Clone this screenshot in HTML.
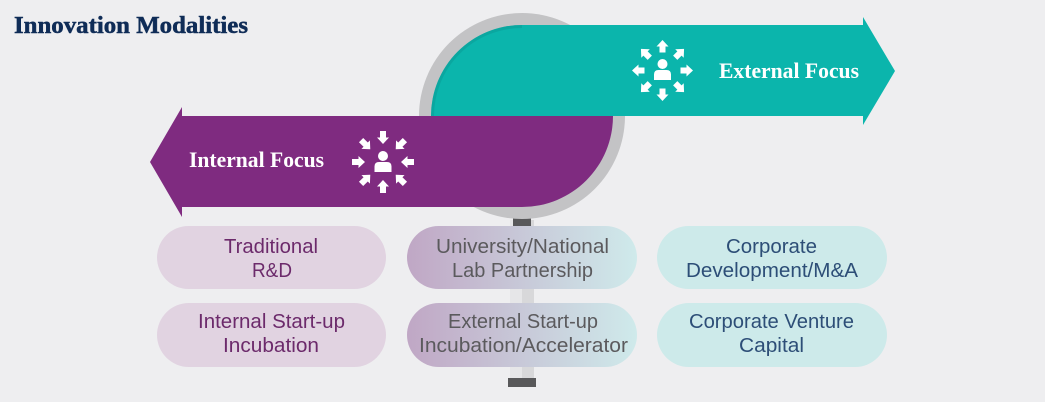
<!DOCTYPE html>
<html><head><meta charset="utf-8"><style>
html,body{margin:0;padding:0;background:#eeeef0;}
svg{display:block;}
</style></head><body>
<svg width="1045" height="402" viewBox="0 0 1045 402" xmlns="http://www.w3.org/2000/svg">
<defs>
<linearGradient id="g2" x1="0" y1="0" x2="1" y2="0">
<stop offset="0" stop-color="#c0a7c5"/>
<stop offset="1" stop-color="#cfeaeb"/>
</linearGradient>
<linearGradient id="postg" x1="0" y1="0" x2="1" y2="0">
<stop offset="0" stop-color="#e6e6e8"/><stop offset="0.5" stop-color="#e6e6e8"/>
<stop offset="0.5" stop-color="#d8d8da"/><stop offset="1" stop-color="#d8d8da"/>
</linearGradient>
</defs>
<rect width="1045" height="402" fill="#eeeef0"/>
<text x="14" y="33" font-family="Liberation Serif, serif" font-weight="bold" font-size="24" fill="#0f2c57" stroke="#0f2c57" stroke-width="0.5" textLength="234" lengthAdjust="spacingAndGlyphs">Innovation Modalities</text>

<!-- post -->
<rect x="510" y="220" width="24" height="160" fill="url(#postg)"/>
<rect x="513" y="214" width="18" height="13" fill="#58585a"/>
<rect x="508" y="378" width="28" height="9" fill="#58585a"/>

<!-- ring -->
<circle cx="522" cy="116" r="103" fill="#c3c3c5"/>

<!-- teal arrow -->
<path d="M431,116 A91,91 0 0 1 522,25 L863,25 L863,17 L895,71 L863,125 L863,116 Z" fill="#0bb5ac"/>
<path d="M432.5,116 A89.5,89.5 0 0 1 522,26.5" fill="none" stroke="#0a9f98" stroke-width="3" opacity="0.6"/>

<!-- purple arrow -->
<path d="M182,116 L613,116 A91,91 0 0 1 522,207 L182,207 L182,217 L150,162 L182,107 Z" fill="#7f2b80"/>

<!-- labels -->
<text x="719" y="78" font-family="Liberation Serif, serif" font-weight="bold" font-size="22" fill="#ffffff" textLength="140" lengthAdjust="spacingAndGlyphs">External Focus</text>
<text x="189" y="167" font-family="Liberation Serif, serif" font-weight="bold" font-size="22" fill="#ffffff" textLength="135" lengthAdjust="spacingAndGlyphs">Internal Focus</text>

<!-- external icon -->
<g transform="translate(662.5,70.5)" fill="#ffffff">
<circle cx="0" cy="-6.5" r="5"/>
<path d="M-8.5,9.5 L-8.5,4 Q-8.5,-0.5 -4,-0.5 L4,-0.5 Q8.5,-0.5 8.5,4 L8.5,9.5 Z"/>
<g id="outA"><polygon points="18,-3 24,-3 24,-6 30.5,0 24,6 24,3 18,3"/></g>
<use href="#outA" transform="rotate(45)"/>
<use href="#outA" transform="rotate(90)"/>
<use href="#outA" transform="rotate(135)"/>
<use href="#outA" transform="rotate(180)"/>
<use href="#outA" transform="rotate(225)"/>
<use href="#outA" transform="rotate(270)"/>
<use href="#outA" transform="rotate(315)"/>
</g>

<!-- internal icon -->
<g transform="translate(383,162)" fill="#ffffff">
<circle cx="0" cy="-6" r="5"/>
<path d="M-8.5,10 L-8.5,4.5 Q-8.5,0 -4,0 L4,0 Q8.5,0 8.5,4.5 L8.5,10 Z"/>
<g id="inA"><polygon points="18,0 24.5,-6 24.5,-3 31,-3 31,3 24.5,3 24.5,6"/></g>
<use href="#inA" transform="rotate(45)"/>
<use href="#inA" transform="rotate(90)"/>
<use href="#inA" transform="rotate(135)"/>
<use href="#inA" transform="rotate(180)"/>
<use href="#inA" transform="rotate(225)"/>
<use href="#inA" transform="rotate(270)"/>
<use href="#inA" transform="rotate(315)"/>
</g>

<!-- boxes -->
<rect x="157" y="226" width="229" height="63" rx="31.5" fill="#e1d3e1"/>
<rect x="157" y="303" width="229" height="64" rx="32" fill="#e1d3e1"/>
<rect x="407" y="226" width="230" height="63" rx="31.5" fill="url(#g2)"/>
<rect x="407" y="303" width="230" height="64" rx="32" fill="url(#g2)"/>
<rect x="657" y="226" width="230" height="63" rx="31.5" fill="#cdeaea"/>
<rect x="657" y="303" width="230" height="64" rx="32" fill="#cdeaea"/>

<g font-family="Liberation Sans, sans-serif" font-size="20">
<g fill="#6c2a6b">
<text x="224" y="253" textLength="94" lengthAdjust="spacingAndGlyphs">Traditional</text>
<text x="252" y="277" textLength="40" lengthAdjust="spacingAndGlyphs">R&amp;D</text>
<text x="198" y="328" textLength="147" lengthAdjust="spacingAndGlyphs">Internal Start-up</text>
<text x="223" y="352" textLength="96" lengthAdjust="spacingAndGlyphs">Incubation</text>
</g>
<g fill="#5b5a5d">
<text x="436" y="253" textLength="173" lengthAdjust="spacingAndGlyphs">University/National</text>
<text x="452" y="277" textLength="141" lengthAdjust="spacingAndGlyphs">Lab Partnership</text>
<text x="448" y="328" textLength="150" lengthAdjust="spacingAndGlyphs">External Start-up</text>
<text x="419" y="352" textLength="209" lengthAdjust="spacingAndGlyphs">Incubation/Accelerator</text>
</g>
<g fill="#2d4e77">
<text x="726" y="253" textLength="91" lengthAdjust="spacingAndGlyphs">Corporate</text>
<text x="686" y="277" textLength="172" lengthAdjust="spacingAndGlyphs">Development/M&amp;A</text>
<text x="689" y="328" textLength="165" lengthAdjust="spacingAndGlyphs">Corporate Venture</text>
<text x="739" y="352" textLength="65" lengthAdjust="spacingAndGlyphs">Capital</text>
</g>
</g>
</svg>
</body></html>
